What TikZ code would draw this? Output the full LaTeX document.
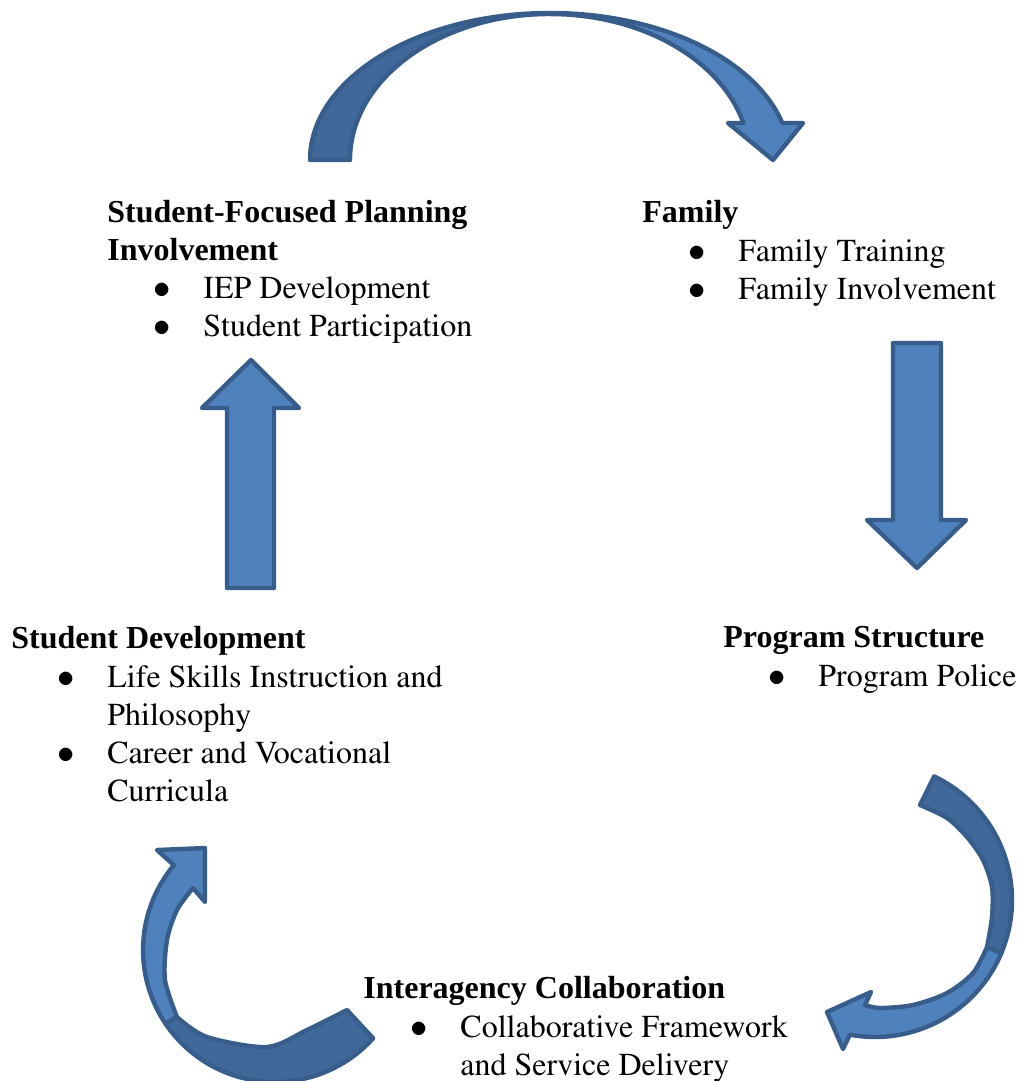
\documentclass[tikz,border=0pt]{standalone}
\usepackage{fontspec}
\setmainfont{Liberation Serif}

\definecolor{arrowfill}{HTML}{4F81BD}
\definecolor{arrowback}{HTML}{406898}
\definecolor{arrowline}{HTML}{385D8A}

% Times shapes for the plain lines
\newcommand{\timesfont}{\fontencoding{T1}\fontfamily{ptm}\fontsize{16}{19}\selectfont}

\tikzset{
  blockarrow/.style={fill=arrowfill, draw=arrowline, line width=2.2pt, line join=round},
  backarrow/.style={blockarrow, fill=arrowback},
  head/.style={anchor=base west, inner sep=0pt, font=\fontsize{16}{19}\selectfont\bfseries},
  item/.style={anchor=base west, inner sep=0pt, font=\timesfont},
  dot/.style={anchor=base, inner sep=0pt, font=\fontsize{16}{19}\selectfont},
}

\begin{document}
\begin{tikzpicture}[x=0.5pt, y=0.5pt]
  \useasboundingbox (0,0) rectangle (1020,-1081);

  % curved arrow on top (planning -> family)
  \draw[blockarrow] (550,-13) arc[start angle=90, end angle=14.6, x radius=120pt, y radius=73.5pt]
    -- (803,-123) -- (773,-160) -- (728,-123) -- (743.4,-123)
    arc[start angle=14.7, end angle=90, x radius=100pt, y radius=73pt] -- cycle;
  \draw[backarrow] (310,-160) arc[start angle=180, end angle=90, x radius=120pt, y radius=73.5pt]
    -- (550,-14) arc[start angle=90, end angle=180, x radius=100pt, y radius=73pt] -- cycle;

  % straight arrows
  \draw[blockarrow] (893,-343) -- (941,-343) -- (941,-520) -- (966,-520) -- (917,-568)
    -- (867,-520) -- (893,-520) -- cycle;
  \draw[blockarrow] (227,-588) -- (227,-408) -- (202,-408) -- (251,-360) -- (299,-408)
    -- (274,-408) -- (274,-588) -- cycle;

  % curved arrow on the right (structure -> collaboration)
  \draw[blockarrow] (1001.3,-953.1) arc[start angle=-22.8, end angle=-100.6, radius=68.5pt]
    -- (843,-1049) -- (827,-1012) -- (871,-992) -- (865,-1005)
    -- plot[smooth] coordinates {(865,-1005) (880,-1008) (913,-1005) (947,-993) (973,-973) (987,-947)}
    -- cycle;
  \draw[backarrow] (934.2,-776.4) arc[start angle=64.4, end angle=-22.8, radius=68.5pt]
    -- plot[smooth] coordinates {(987,-947) (992,-917) (992,-887) (983,-860) (967,-837) (947,-818) (920,-805)}
    -- cycle;

  % curved arrow on the left (collaboration -> development)
  \draw[blockarrow] (165.6,-1023.8) arc[start angle=-146, end angle=-220, radius=66pt]
    -- (157,-850) -- (205,-848) -- (205,-902) -- (193,-888)
    -- plot[smooth] coordinates {(193,-888) (177,-910) (167,-940) (165,-980) (177,-1017)}
    -- cycle;
  \draw[backarrow] (373.1,-1038.3) arc[start angle=-42, end angle=-146, radius=66pt]
    -- plot[smooth] coordinates {(177,-1017) (207,-1037) (267,-1047) (307,-1030) (347,-1010)}
    -- cycle;

  % Student-Focused Planning
  \node[head] (sfp)  at (107,-222) {Student-Focused Planning};
  \node[head] (sfp2) at (107,-260) {Involvement};
  \node[dot]  (sfpd1) at (162,-298) {$\bullet$};
  \node[item] (sfp3) at (203,-298) {IEP Development};
  \node[dot]  (sfpd2) at (162,-336) {$\bullet$};
  \node[item] (sfp4) at (203,-336) {Student Participation};

  % Family
  \node[head] (fam)  at (642,-222) {Family};
  \node[dot]  (famd1) at (697,-261) {$\bullet$};
  \node[item] (fam1) at (738,-261) {Family Training};
  \node[dot]  (famd2) at (697,-299) {$\bullet$};
  \node[item] (fam2) at (738,-299) {Family Involvement};

  % Program Structure
  \node[head] (prog)  at (723,-647) {Program Structure};
  \node[dot]  (progd) at (777,-686) {$\bullet$};
  \node[item] (prog1) at (818,-686) {Program Police};

  % Student Development
  \node[head] (dev)  at (11,-648) {Student Development};
  \node[dot]  (devd1) at (66,-687) {$\bullet$};
  \node[item] (dev1) at (107,-687) {Life Skills Instruction and};
  \node[item] (dev2) at (107,-725) {Philosophy};
  \node[dot]  (devd2) at (66,-763) {$\bullet$};
  \node[item] (dev3) at (107,-763) {Career and Vocational};
  \node[item] (dev4) at (107,-801) {Curricula};

  % Interagency Collaboration
  \node[head] (inter)  at (363,-998) {Interagency Collaboration};
  \node[dot]  (interd) at (419,-1037) {$\bullet$};
  \node[item] (inter1) at (460,-1037) {Collaborative Framework};
  \node[item] (inter2) at (460,-1075) {and Service Delivery};
\end{tikzpicture}
\end{document}
